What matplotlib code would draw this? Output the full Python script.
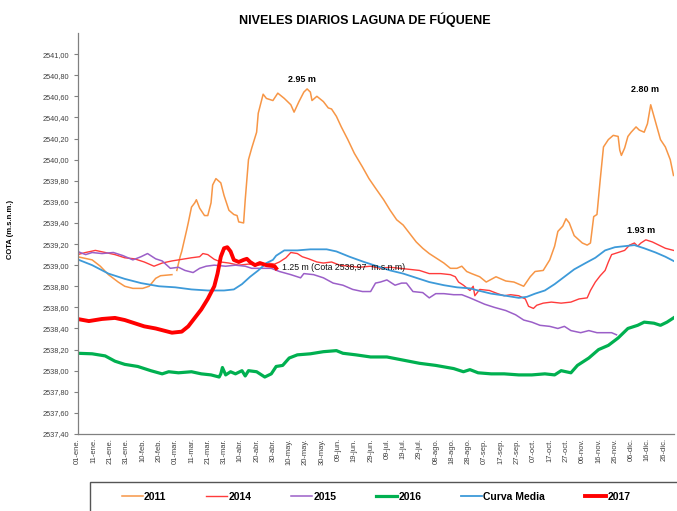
import numpy as np
import matplotlib
matplotlib.use("Agg")
import matplotlib.pyplot as plt
from matplotlib.patches import Rectangle
from matplotlib.lines import Line2D

nan = np.nan

# ---------------- data (day of year index, level in m.s.n.m.) ----------------
d2011 = [0, 9, 14, 19, 25, 29, 34, 40, 44, 48, 51, 58, 59, 61, 63, 64, 67, 68, 70, 72, 73, 75, 78, 80,
         82, 83, 85, 88, 90, 93, 96, 98, 99, 102, 103, 105, 107, 110, 111, 114, 116, 120, 123, 127,
         131, 133, 136, 139, 141, 143, 144, 147, 151, 154, 156, 159, 162, 166, 170, 175, 179, 183,
         188, 192, 196, 200, 204, 208, 212, 216, 221, 225, 229, 233, 236, 239, 242, 247, 251, 257,
         263, 268, 274, 278, 281, 286, 290, 293, 295, 298, 300, 302, 305, 310, 313, 315, 317, 319,
         321, 323, 326, 329, 332, 333, 334, 336, 338, 340, 343, 345, 348, 350, 352, 354, 358, 361,
         364, 366]
v2011 = [2539.08, 2539.05, 2538.99, 2538.91, 2538.84, 2538.80, 2538.78, 2538.78, 2538.80, 2538.875,
         2538.90, 2538.91, nan, 2538.95, 2539.08, 2539.13, 2539.33, 2539.40, 2539.55, 2539.59,
         2539.62, 2539.54, 2539.47, 2539.47, 2539.59, 2539.76, 2539.82, 2539.78, 2539.66, 2539.52,
         2539.48, 2539.47, 2539.41, 2539.40, 2539.62, 2540.00, 2540.11, 2540.26, 2540.44, 2540.62,
         2540.58, 2540.56, 2540.63, 2540.58, 2540.52, 2540.45, 2540.55, 2540.64, 2540.67, 2540.64,
         2540.56, 2540.60, 2540.55, 2540.49, 2540.48, 2540.41, 2540.31, 2540.19, 2540.06, 2539.93,
         2539.82, 2539.73, 2539.62, 2539.52, 2539.43, 2539.38, 2539.30, 2539.22, 2539.16, 2539.11,
         2539.06, 2539.02, 2538.97, 2538.97, 2538.99, 2538.94, 2538.92, 2538.89, 2538.84, 2538.89,
         2538.85, 2538.84, 2538.80, 2538.89, 2538.94, 2538.95, 2539.05, 2539.18, 2539.32, 2539.37,
         2539.44, 2539.40, 2539.28, 2539.21, 2539.19, 2539.21, 2539.46, 2539.48, 2539.81, 2540.12,
         2540.19, 2540.23, 2540.22, 2540.09, 2540.04, 2540.11, 2540.22, 2540.26, 2540.31, 2540.28,
         2540.26, 2540.34, 2540.52, 2540.41, 2540.19, 2540.12, 2540.00, 2539.85]

d2014 = [0, 5, 11, 17, 23, 29, 35, 41, 47, 52, 58, 64, 70, 75, 77, 80, 84, 88, 93, 99, 105, 111, 117,
         121, 124, 128, 131, 135, 138, 142, 147, 151, 156, 161, 167, 173, 180, 186, 192, 198, 204,
         210, 216, 223, 229, 232, 234, 237, 241, 243, 244, 247, 253, 258, 262, 266, 271, 275, 277,
         280, 282, 286, 291, 297, 303, 308, 313, 315, 318, 321, 324, 326, 328, 332, 336, 339, 342,
         344, 346, 349, 353, 357, 361, 366]
v2014 = [2539.10, 2539.12, 2539.14, 2539.12, 2539.10, 2539.07, 2539.06, 2539.03, 2538.99, 2539.02,
         2539.04, 2539.055, 2539.07, 2539.08, 2539.11, 2539.10, 2539.055, 2539.03, 2539.02, 2539.00,
         2539.01, 2539.00, 2539.02, 2539.01, 2539.03, 2539.07, 2539.12, 2539.11, 2539.08, 2539.06,
         2539.03, 2539.02, 2539.03, 2539.00, 2538.99, 2538.98, 2538.99, 2538.97, 2538.98, 2538.97,
         2538.96, 2538.95, 2538.92, 2538.92, 2538.91, 2538.89, 2538.84, 2538.81, 2538.76, 2538.80,
         2538.71, 2538.77, 2538.76, 2538.73, 2538.71, 2538.72, 2538.71, 2538.68, 2538.61, 2538.59,
         2538.62, 2538.64, 2538.65, 2538.64, 2538.65, 2538.68, 2538.69, 2538.76, 2538.84, 2538.90,
         2538.95, 2539.03, 2539.10, 2539.12, 2539.14, 2539.19, 2539.21, 2539.18, 2539.21, 2539.24,
         2539.22, 2539.19, 2539.16, 2539.14]

d2015 = [0, 5, 9, 15, 22, 28, 34, 39, 43, 48, 52, 57, 62, 66, 71, 75, 79, 84, 91, 97, 103, 107, 113,
         119, 124, 131, 137, 139, 145, 151, 157, 163, 169, 175, 180, 183, 186, 190, 195, 199, 202,
         206, 212, 216, 220, 225, 231, 236, 241, 244, 250, 256, 263, 269, 274, 279, 284, 290, 295,
         299, 303, 309, 314, 319, 324, 328, 331]
v2015 = [2539.13, 2539.10, 2539.12, 2539.11, 2539.12, 2539.09, 2539.05, 2539.08, 2539.11, 2539.06,
         2539.04, 2538.97, 2538.98, 2538.95, 2538.93, 2538.97, 2538.99, 2539.00, 2538.99, 2539.00,
         2538.99, 2538.97, 2538.97, 2538.97, 2538.94, 2538.91, 2538.88, 2538.92, 2538.91, 2538.88,
         2538.83, 2538.81, 2538.77, 2538.75, 2538.75, 2538.83, 2538.84, 2538.86, 2538.81, 2538.83,
         2538.83, 2538.75, 2538.74, 2538.69, 2538.73, 2538.73, 2538.72, 2538.72, 2538.69, 2538.67,
         2538.63, 2538.60, 2538.57, 2538.53, 2538.48, 2538.46, 2538.43, 2538.42, 2538.40, 2538.42,
         2538.38, 2538.36, 2538.38, 2538.36, 2538.36, 2538.36, 2538.34]

d2016 = [0, 9, 17, 23, 29, 37, 45, 52, 56, 62, 70, 76, 82, 87, 88, 89, 91, 94, 97, 101, 103, 105, 110,
         115, 119, 122, 126, 130, 135, 143, 151, 159, 163, 171, 180, 190, 200, 210, 220, 231, 237,
         241, 246, 254, 262, 271, 279, 287, 293, 297, 303, 307, 314, 320, 326, 332, 338, 344, 348,
         354, 358, 362, 366]
v2016 = [2538.165, 2538.16, 2538.14, 2538.09, 2538.06, 2538.04, 2538.00, 2537.97, 2537.99, 2537.98,
         2537.99, 2537.97, 2537.96, 2537.94, 2537.97, 2538.03, 2537.96, 2537.99, 2537.97, 2538.00,
         2537.95, 2538.00, 2537.99, 2537.94, 2537.97, 2538.04, 2538.05, 2538.12, 2538.15, 2538.16,
         2538.18, 2538.19, 2538.165, 2538.15, 2538.13, 2538.13, 2538.10, 2538.07, 2538.05, 2538.02,
         2537.99, 2538.01, 2537.98, 2537.97, 2537.97, 2537.96, 2537.96, 2537.97, 2537.96, 2538.00,
         2537.98, 2538.05, 2538.12, 2538.20, 2538.24, 2538.31, 2538.40, 2538.43, 2538.46, 2538.45,
         2538.43, 2538.46, 2538.50]

dmedia = [0, 9, 19, 29, 39, 50, 60, 70, 80, 90, 96, 101, 106, 111, 116, 120, 122, 127, 135, 143, 153,
          159, 167, 176, 184, 192, 200, 208, 216, 225, 233, 241, 246, 254, 263, 271, 276, 281, 287,
          293, 299, 305, 312, 318, 324, 330, 336, 342, 348, 355, 361, 366]
vmedia = [2539.055, 2539.00, 2538.92, 2538.87, 2538.83, 2538.80, 2538.79, 2538.77, 2538.76, 2538.76,
          2538.77, 2538.82, 2538.89, 2538.95, 2539.02, 2539.05, 2539.09, 2539.14, 2539.14, 2539.15,
          2539.15, 2539.13, 2539.08, 2539.03, 2538.99, 2538.95, 2538.92, 2538.88, 2538.84, 2538.81,
          2538.79, 2538.78, 2538.76, 2538.73, 2538.71, 2538.69, 2538.70, 2538.73, 2538.76, 2538.82,
          2538.89, 2538.96, 2539.02, 2539.07, 2539.14, 2539.17, 2539.18, 2539.19, 2539.16, 2539.12,
          2539.08, 2539.04]

d2017 = [0, 7, 15, 23, 29, 35, 41, 48, 53, 58, 64, 68, 72, 76, 80, 84, 86, 88, 90, 92, 94, 96, 99,
         102, 104, 106, 109, 112, 116, 121, 122]
v2017 = [2538.49, 2538.47, 2538.49, 2538.50, 2538.48, 2538.45, 2538.42, 2538.40, 2538.38, 2538.36,
         2538.37, 2538.42, 2538.50, 2538.58, 2538.68, 2538.80, 2538.92, 2539.08, 2539.16, 2539.17,
         2539.13, 2539.05, 2539.03, 2539.05, 2539.06, 2539.03, 2539.00, 2539.02, 2539.00, 2538.99,
         2538.97]

xtick_pos = list(range(0, 361, 10))
xtick_labels = ["01-ene.", "11-ene.", "21-ene.", "31-ene.", "10-feb.", "20-feb.", "01-mar.", "11-mar.",
                "21-mar.", "31-mar.", "10-abr.", "20-abr.", "30-abr.", "10-may.", "20-may.", "30-may.",
                "09-jun.", "19-jun.", "29-jun.", "09-jul.", "19-jul.", "29-jul.", "08-ago.", "18-ago.",
                "28-ago.", "07-sep.", "17-sep.", "27-sep.", "07-oct.", "17-oct.", "27-oct.", "06-nov.",
                "16-nov.", "26-nov.", "06-dic.", "16-dic.", "26-dic."]
ytick_pos = [2537.4, 2537.6, 2537.8, 2538.0, 2538.2, 2538.4, 2538.6, 2538.8, 2539.0, 2539.2,
             2539.4, 2539.6, 2539.8, 2540.0, 2540.2, 2540.4, 2540.6, 2540.8, 2541.0]
ytick_labels = ["2537,40", "2537,60", "2537,80", "2538,00", "2538,20", "2538,40", "2538,60",
                "2538,80", "2539,00", "2539,20", "2539,40", "2539,60", "2539,80", "2540,00",
                "2540,20", "2540,40", "2540,60", "2540,80", "2541,00"]

plt.rcParams["font.family"] = ["Liberation Sans", "DejaVu Sans"]

W, H = 677, 511
fig = plt.figure(figsize=(W / 100, H / 100), dpi=100)
ax = fig.add_axes([77.5 / W, 77 / H, 596 / W, 401 / H])

ax.plot(d2011, v2011, color="#F79646", lw=1.1, label="2011")
ax.plot(d2014, v2014, color="#FF3B3B", lw=1.0, label="2014")
ax.plot(d2015, v2015, color="#9B5FC8", lw=1.1, label="2015")
ax.plot(d2016, v2016, color="#00B050", lw=2.3, label="2016")
ax.plot(dmedia, vmedia, color="#3D9AD9", lw=1.3, label="Curva Media")
ax.plot(d2017, v2017, color="#FF0000", lw=2.8, label="2017")

ax.set_xlim(0, 366)
ax.set_ylim(2537.4, 2541.2)

ax.set_xticks(xtick_pos)
ax.set_xticklabels(xtick_labels, rotation=90, fontsize=5.5, color="#404040")
ax.set_xticks(list(range(40, 361, 40)), minor=True)
ax.tick_params(axis="x", which="major", length=0, pad=3)
ax.tick_params(axis="x", which="minor", length=4, width=0.8, color="#808080", direction="out")
ax.set_yticks(ytick_pos)
ax.set_yticklabels(ytick_labels, fontsize=5.3, color="#404040")
ax.tick_params(axis="y", length=3, width=0.8, color="#808080", direction="out", pad=3)

for s in ["top", "right"]:
    ax.spines[s].set_visible(False)
for s in ["left", "bottom"]:
    ax.spines[s].set_color("#808080")
    ax.spines[s].set_linewidth(0.9)

ax.set_ylabel("COTA (m.s.n.m.)", fontsize=5.5, fontweight="bold")
ax.yaxis.set_label_coords(-0.106, 0.51)

fig.text(365 / W, 1 - 20 / H, "NIVELES DIARIOS LAGUNA DE FÚQUENE", ha="center", va="center",
         fontsize=9, fontweight="bold")

# annotations
ax.text(137.6, 2540.76, "2.95 m", ha="center", va="center", fontsize=6.5, fontweight="bold")
ax.text(348.3, 2540.66, "2.80 m", ha="center", va="center", fontsize=6.5, fontweight="bold")
ax.text(346.3, 2539.33, "1.93 m", ha="center", va="center", fontsize=6.5, fontweight="bold")
ax.text(125.4, 2538.982, "1.25 m (Cota 2538,97  m.s.n.m)", ha="left", va="center", fontsize=6.3,
        color="#111111")

# legend
handles, labels = ax.get_legend_handles_labels()
leg = fig.legend(handles, labels, loc="center", bbox_to_anchor=(376 / W, 1 - 497 / H), ncol=6,
                 frameon=False, prop={"weight": "bold", "size": 7.5}, handlelength=2.0,
                 handletextpad=0.15, columnspacing=3.8)
fig.patches.append(Rectangle((90 / W, -0.02), 0.9, (511 - 482) / H + 0.02, transform=fig.transFigure,
                             fill=False, edgecolor="#555555", lw=1.0))

fig.savefig("out.png", dpi=100)
